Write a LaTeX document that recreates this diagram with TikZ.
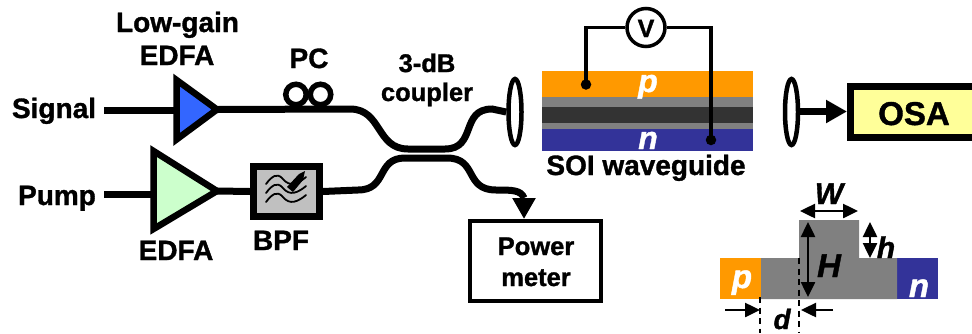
\documentclass[tikz,border=0pt]{standalone}
\usepackage{fontspec}
\setmainfont{Liberation Sans}[BoldFeatures={FakeBold=1.2},BoldItalicFeatures={FakeBold=1.2}]
\usetikzlibrary{arrows.meta,shapes.geometric}
\definecolor{cOrange}{HTML}{FF9900}
\definecolor{cNavy}{HTML}{333399}
\definecolor{cGray}{HTML}{808080}
\definecolor{cDark}{HTML}{333333}
\definecolor{cBlue}{HTML}{3366FF}
\definecolor{cGreen}{HTML}{CCFFCC}
\definecolor{cFilter}{HTML}{C0C0C0}
\definecolor{cYellow}{HTML}{FFFF99}
\tikzset{
  x=1pt,y=-1pt,
  lbl/.style={anchor=base,inner sep=0pt,font=\fontsize{28}{28}\selectfont\bfseries},
  lblmid/.style={lbl,font=\fontsize{25.5}{25.5}\selectfont\bfseries},
  lblit/.style={lbl,font=\fontsize{30}{30}\selectfont\bfseries\itshape},
  lblsmit/.style={lbl,font=\fontsize{28}{28}\selectfont\bfseries\itshape},
  lblbigit/.style={lbl,font=\fontsize{33}{33}\selectfont\bfseries\itshape},
  whiteit/.style={lbl,text=white,font=\fontsize{32}{32}\selectfont\bfseries\itshape},
  fibre/.style={line width=7pt,black},
  amp/.style={line width=6.5pt,miter limit=10,draw=black},
  instr/.style={draw=black,inner sep=0pt},
  lens/.style={draw=black,fill=white,line width=4.5pt,ellipse,minimum width=13pt,minimum height=66pt,inner sep=0pt},
  wire/.style={line width=3.5pt,black},
  dot/.style={circle,fill=black,inner sep=0pt,minimum size=10.5pt},
  bighead/.style={-{Triangle[length=21pt,width=22pt]}},
  dimarrow/.style={line width=2.5pt,black},
  dimdouble/.style={dimarrow,{Triangle[length=15pt,width=14pt]}-{Triangle[length=15pt,width=14pt]}},
  dimsingle/.style={dimarrow,-{Triangle[length=15pt,width=14pt]}},
  guide/.style={line width=2pt,black,dash pattern=on 6pt off 4.5pt},
  pcloop/.style={line width=5.5pt,black},
}
\begin{document}
\begin{tikzpicture}
\useasboundingbox (0,0) rectangle (972,333);

% named points
\coordinate (sigstart) at (104,110.5);
\coordinate (pumpstart) at (104,194);
\coordinate (a1L) at (176.5,110.5);
\coordinate (a1T) at (176.5,80);
\coordinate (a1B) at (176.5,139.5);
\coordinate (a1tip) at (217,109.5);
\coordinate (a2L) at (153.5,194);
\coordinate (a2T) at (153.5,151);
\coordinate (a2B) at (153.5,229);
\coordinate (a2tip) at (217,191);

% fibres
\draw[fibre] (sigstart) -- (a1L);
\draw[fibre] (pumpstart) -- (a2L);

% amplifiers
\draw[amp,fill=cBlue] (a1T) -- (a1tip) -- (a1B) -- cycle;
\draw[amp,fill=cGreen] (a2T) -- (a2tip) -- (a2B) -- cycle;

% BPF
\node[instr,line width=7pt,fill=cFilter,minimum width=66pt,minimum height=50pt] (bpf) at (286.5,191.5) {};
\draw[fibre] (a2tip) -- (bpf.west);
\begin{scope}[line width=1.8pt,line cap=round]
  \foreach \dy in {0,9,18}{
    \draw (266,{184+\dy}) .. controls (272,{176+\dy}) and (277,{173+\dy}) .. (282,{178+\dy})
       .. controls (287,{184+\dy}) and (293,{188+\dy}) .. (306,{\dy+177});
  }
  \fill (287,187) -- (299,174) -- (305,171) -- (303,180) -- (293,192) -- cycle;
\end{scope}

% lenses
\node[lens] (lensL) at (515,112) {};
\node[lens] (lensR) at (791.5,112) {};

% PC
\node[circle,pcloop,draw,minimum size=20.5pt,inner sep=0pt] (pc1) at (296,94.5) {};
\node[circle,pcloop,draw,minimum size=20.5pt,inner sep=0pt] (pc2) at (320.5,94.5) {};

% upper fibre
\draw[fibre] (a1tip) -- (350,109) .. controls (382,109) and (376,149) .. (408,149)
  -- (445,149) .. controls (477,149) and (460,109) .. (492,109) -- (lensL.west);
% power meter and lower fibre
\node[instr,line width=4.5pt,fill=white,minimum width=131pt,minimum height=80pt] (pm) at (535.5,261) {};
\coordinate (pmin) at (524,219);
\coordinate (pmbend) at (524,198);
\draw[fibre] (bpf.east) -- (358,190) .. controls (388,190) and (376,158) .. (405,158)
  -- (447,158) .. controls (478,158) and (464,190) .. (496,190)
  .. controls (512,190) and (521,190) .. (pmbend);
\draw[line width=7pt,bighead] (pmbend) -- (pmin);

% waveguide
\fill[cOrange] (542,71) rectangle (753,97);
\fill[cGray] (542,97) rectangle (753,107);
\fill[cDark] (542,107) rectangle (753,123);
\fill[cGray] (542,123) rectangle (753,129);
\fill[cNavy] (542,129) rectangle (753,151);
\node[whiteit] (plabel) at (648,92) {p};
\node[whiteit] (nlabel) at (648,149) {n};

% voltmeter
\node[circle,draw=black,fill=white,line width=3.5pt,minimum size=38pt,inner sep=0pt] (volt) at (646,27.5) {};
\node[lbl,font=\fontsize{25}{25}\selectfont\bfseries] (vtext) at (646,37) {V};
\node[dot] (pdot) at (586,84.5) {};
\node[dot] (ndot) at (711,140) {};
\draw[wire] (volt.west) -| (pdot.center);
\draw[wire] (volt.east) -| (ndot.center);

% OSA
\node[instr,line width=7pt,fill=cYellow,minimum width=125pt,minimum height=51pt,anchor=west] (osa) at (847,111.5) {};
\draw[line width=7pt,bighead] (lensR.east |- osa.west) -- (osa.west);

% labels
\node[lbl] (l1) at (177.5,32) {Low-gain};
\node[lbl] (l2) at (177,65) {EDFA};
\node[lbl] (l3) at (309,68) {PC};
\node[lbl] (l4) at (54,118) {Signal};
\node[lbl] (l5) at (57,205) {Pump};
\node[lbl] (l6) at (176,260) {EDFA};
\node[lbl] (l7) at (281,250) {BPF};
\node[lblmid] (l8) at (427,72) {3-dB};
\node[lblmid] (l9) at (427,101) {coupler};
\node[lbl] (l10) at (646,175) {SOI waveguide};
\node[lblmid] (l11) at (536,255) {Power};
\node[lblmid] (l12) at (536,286) {meter};
\node[lbl,font=\fontsize{33}{33}\selectfont\bfseries] (l13) at (914,125) {OSA};

% cross-section
\fill[cOrange] (720,258) rectangle (761,299);
\fill[cNavy] (897,258) rectangle (938,299);
\fill[cGray] (761,258) -- (799,258) -- (799,220) -- (859,220) -- (859,258) -- (897,258) -- (897,299) -- (761,299) -- cycle;
\node[lblbigit,text=white] (cp) at (742,288) {p};
\node[lblbigit,text=white] (cn) at (919,297) {n};
\coordinate (wL) at (800,211);
\coordinate (wR) at (858,211);
\draw[dimdouble] (wL) -- (wR);
\coordinate (hT) at (808,222);
\coordinate (hB) at (808,297);
\draw[dimdouble] (hT) -- (hB);
\coordinate (h2T) at (870,222);
\coordinate (h2B) at (870,258);
\draw[dimdouble] (h2T) -- (h2B);
\node[lblit] (tw) at (829,204) {W};
\node[lblbigit] (tH) at (829,277) {H};
\node[lblit] (th) at (886,258) {h};
\node[lblsmit] (td) at (782,329) {d};
\coordinate (g1a) at (760,297);
\coordinate (g1b) at (760,333);
\coordinate (g2a) at (799,258);
\coordinate (g2b) at (799,333);
\draw[guide] (g1a) -- (g1b);
\draw[guide] (g2a) -- (g2b);
\coordinate (dL) at (725,310);
\coordinate (dLe) at (760,310);
\coordinate (dR) at (833,310);
\coordinate (dRe) at (801,310);
\draw[dimsingle] (dL) -- (dLe);
\draw[dimsingle] (dR) -- (dRe);
\end{tikzpicture}
\end{document}
